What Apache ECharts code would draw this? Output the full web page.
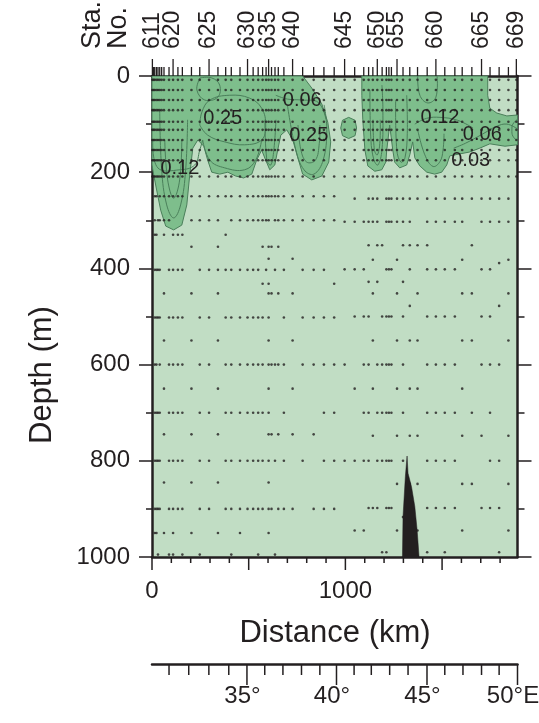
<!DOCTYPE html>
<html><head><meta charset="utf-8">
<script src="https://cdn.jsdelivr.net/npm/echarts@6/dist/echarts.min.js"></script>
<style>html,body{margin:0;padding:0;background:#fff;}#c{width:539px;height:723px;}</style>
</head><body><div id="c"></div>
<script>
// ---------- data ----------
const stationNo = [611,612,613,614,615,616,617,618,619,620,621,622,623,624,625,626,627,628,629,630,631,632,633,634,635,636,637,638,639,640,641,642,643,644,645,646,647,648,649,650,651,652,653,654,655,656,657,658,659,660,661,662,663,664,665,666,667,668,669];
const stationKm = [2,8,14,23,31,40,50,62,88,109,134,157,204,247,295,341,381,410,455,494,523,549,572,590,603,618,636,653,682,727,779,836,889,942,996,1048,1095,1120,1142,1165,1190,1212,1225,1238,1267,1298,1333,1373,1423,1468,1514,1566,1604,1654,1704,1748,1795,1843,1884];
const labeledStations = [611,620,625,630,635,640,645,650,655,660,665,669];

const distTicks = [0,100,200,300,400,500,600,700,800,900,1000,1100,1200,1300,1400,1500,1600,1700,1800];
const distLabels = [0,1000];

const lonDeg = [31,32,33,34,35,36,37,38,39,40,41,42,43,44,45,46,47,48,49,50];
const lonKm = [88,190,294,397,491,583,677,773,868,954,1045,1134,1229,1324,1422,1514,1608,1704,1795,1890];
const lonLabeled = [35,40,45,50];
const lonLabelText = ['35°','40°','45°','50°E'];

// sampling depths in the upper layer (all stations)
const upperDepths = [8,29,50,71,95,112,133,154,175,209];

// deeper samples: depth of each row and stations sampled at it
const sampleDepths = [250,300,330,355,380,403,432,452,502,550,600,650,700,745,800,845,900,950,995,
  255,303,352,382,389,402,428,452,478,500,550,600,650,700,748,800,848,898,917,945,990];
const sampleStations = [
  [613,614,616,618,619,620,621,622,623,624,625,626,627,628,629,630,631,632,633,634,635,636,637,638,639,640,641,642,643,644],
  [613,615,616,618,619,623,624,625,626,628,629,630,631,632,633,634,635,637,638,639,640,641,642,643,644],
  [613,614,618,620,621,622,627],
  [623,626,633,635,636,638],
  [635,640],
  [613,614,615,616,619,620,621,622,624,625,626,627,628,629,630,631,632,634,637,639,641,642,643],
  [633,635,644],
  [618,623,626,635,636,638,640],
  [613,614,615,616,619,620,621,622,624,625,627,628,629,630,631,632,633,635,639,641,642,643,644],
  [618,623,626,635,640],
  [613,614,616,619,620,621,622,624,625,627,628,629,630,631,632,633,635,636,637,638,639,641,642,643,644],
  [618,623,626,635,640],
  [613,614,615,616,619,620,621,622,624,625,627,628,629,630,631,632,633,635,639,643,644],
  [618,623,626,635,636,638,640,642],
  [613,614,615,616,619,620,621,622,624,625,627,628,629,630,631,632,633,635,637,639,641,643,644],
  [618,623,626,635],
  [613,614,615,616,619,620,621,622,624,625,627,628,629,630,631,632,633,635,636,638,639,640,642,643,644],
  [613,614,618,620,623,626,629,635],
  [615,619,620,622,624,628,632,637],
  [646,648,649,650,652,653,654,655,656,657,658,659,660,661,662,663,664,665,666,667,668],
  [645,646,647,648,649,650,652,653,654,655,656,657,659,660,661,662,663,665,666,667,668],
  [648,650,651,656,657,658,659,664],
  [649,655,663,668],
  [667],
  [645,646,647,652,653,654,657,659,660,661,662,665,666],
  [648,650,656],
  [649,655,658,663,664,668],
  [657,667],
  [646,647,648,651,652,653,654,656,659,660,661,662,665,666],
  [649,655,657,658,663,664,668],
  [645,647,648,650,651,652,653,654,656,659,660,661,662,665,666,667],
  [646,649,655,657,658,663],
  [647,648,650,651,652,653,654,656,659,660,661,662,664,666],
  [649,655,657,658,663,665,668],
  [645,646,647,648,650,651,652,653,654,656,659,660,661,662,666,667],
  [655,657,658,663,664,668],
  [648,649,650,652,653,654,659,660,661,662,665,666,667],
  [656],
  [646,647,655,658,663,668],
  [651,652,659,661,667]
];

// contoured area (> 0.03), [km, depth m]
const fillLeft = [[0,0],[779,0],[826,25],[878,58],[909,96],[924,137],[914,179],[878,208],[826,216],[779,204],[754,170],[728,133],[697,112],[666,123],[650,154],[635,185],[609,195],[588,175],[567,154],[541,175],[516,204],[474,212],[433,208],[392,200],[350,204],[309,200],[288,175],[268,146],[237,133],[211,150],[195,206],[180,268],[154,310],[112,320],[71,312],[45,279],[24,237],[9,206],[0,185]];
const fillRight = [[1085,0],[1736,0],[1736,40],[1747,67],[1783,77],[1835,83],[1890,81],[1890,143],[1825,146],[1747,141],[1695,150],[1643,158],[1591,162],[1540,166],[1524,185],[1498,200],[1462,204],[1421,200],[1385,187],[1359,170],[1348,137],[1333,164],[1317,185],[1281,191],[1255,179],[1245,154],[1229,102],[1214,154],[1209,179],[1188,195],[1152,198],[1116,187],[1101,154],[1090,91],[1085,40]];
const fillBlob = [[976,108],[985,92],[1017,86],[1050,92],[1058,108],[1050,124],[1017,130],[985,124]];

// inner contour lines
const contourLines = [
  [[40,71],[50,195],[76,268],[112,295],[148,268],[174,195],[184,91]],
  [[66,133],[81,216],[112,254],[143,216],[154,133]],
  [[4,133],[30,191],[144,195],[221,185],[247,154],[262,133]],
  [[248,4],[232,29],[273,50],[340,44],[350,19],[309,4],[248,4]],
  [[247,102],[258,75],[299,50],[402,40],[505,46],[567,67],[588,102],[567,133],[479,143],[376,137],[288,123],[247,102]],
  [[262,133],[299,175],[376,191],[479,195],[536,175],[567,133]],
  [[584,91],[594,175],[614,185],[630,154],[641,91]],
  [[700,60],[744,154],[786,195],[837,204],[885,175],[904,112],[890,60]],
  [[755,102],[770,154],[800,179],[845,175],[865,140],[868,102]],
  [[640,40],[700,48],[776,50],[860,55],[900,90]],
  [[1127,29],[1132,133],[1148,175],[1168,185],[1189,154],[1194,71],[1189,19]],
  [[1143,91],[1150,154],[1165,164],[1178,140],[1180,91]],
  [[1260,50],[1266,154],[1287,179],[1308,170],[1320,120],[1317,40]],
  [[1374,112],[1411,164],[1453,188],[1489,178],[1505,154],[1510,120]],
  [[1374,0],[1385,40],[1426,56],[1468,44],[1474,0]],
  [[1359,100],[1420,88],[1489,86],[1580,92],[1660,108]],
  [[1560,150],[1620,140],[1708,121],[1780,105],[1835,100],[1890,110]],
  [[1890,90],[1866,100],[1861,112],[1866,125],[1890,135]]
];
const contourLabelText = ['0.25','0.06','0.25','0.12','0.12','0.06','0.03'];
const contourLabelKm = [366,777,811,144,1489,1708,1648];
const contourLabelDepth = [88,50,123,192,86,121,176];

// bottom topography
const ridgeKm = [1295,1298,1310,1319,1324,1342,1359,1371,1381];
const ridgeDepth = [1000,916,833,790,826,854,895,944,1000];

// ---------- chart ----------
const FONT = '"Liberation Sans", Arial, Helvetica, sans-serif';
const INK = '#231f20';
const BG = '#c1ddc4';
const FILL = '#7ebe8c';
const CLINE = '#4a7f5a';

const kmOf = s => stationKm[stationNo.indexOf(s)];
const dots = [];
upperDepths.forEach(d => stationNo.forEach(s => dots.push([kmOf(s), d])));
sampleDepths.forEach((d, i) => sampleStations[i].forEach(s => dots.push([kmOf(s), d])));

const polys = [fillLeft, fillRight, fillBlob];
const ridge = ridgeKm.map((k, i) => [k, ridgeDepth[i]]);

const chart = echarts.init(document.getElementById('c'), null, {renderer: 'canvas'});
const axisLineStyle = {color: INK, width: 2.5};
chart.setOption({
  animation: false,
  grid: [
    {left: 152, top: 76, width: 365.5, height: 481, show: true, backgroundColor: BG, borderWidth: 0},
    {left: 152, top: 664, width: 365.5, height: 40, show: false}
  ],
  xAxis: [
    {gridIndex: 0, type: 'value', min: 0, max: 1890, interval: 500, position: 'bottom',
     axisLine: {show: true, onZero: false, lineStyle: axisLineStyle}, axisTick: {show: false}, splitLine: {show: false},
     axisLabel: {margin: 22, fontSize: 24, fontFamily: FONT, color: INK,
       formatter: v => distLabels.indexOf(v) >= 0 ? String(v) : ''}},
    {gridIndex: 0, type: 'value', min: 0, max: 1890, position: 'top',
     axisLine: {show: true, onZero: false, lineStyle: axisLineStyle}, axisTick: {show: false}, axisLabel: {show: false}, splitLine: {show: false}},
    {gridIndex: 1, type: 'value', min: 0, max: 1890, position: 'top',
     axisLine: {show: true, onZero: false, lineStyle: axisLineStyle}, axisTick: {show: false}, axisLabel: {show: false}, splitLine: {show: false}}
  ],
  yAxis: [
    {gridIndex: 0, type: 'value', inverse: true, min: 0, max: 1000, interval: 200, position: 'left',
     axisLine: {show: true, onZero: false, lineStyle: axisLineStyle},
     axisTick: {show: true, length: 13, lineStyle: {color: INK, width: 1.5}},
     minorTick: {show: true, splitNumber: 2, length: 6, lineStyle: {color: INK, width: 1.5}},
     splitLine: {show: false},
     axisLabel: {margin: 22, fontSize: 24, fontFamily: FONT, color: INK, formatter: v => String(v)}},
    {gridIndex: 0, type: 'value', inverse: true, min: 0, max: 1000, interval: 200, position: 'right',
     axisLine: {show: true, onZero: false, lineStyle: axisLineStyle},
     axisTick: {show: true, length: 14, lineStyle: {color: INK, width: 1.5}},
     minorTick: {show: true, splitNumber: 2, length: 7, lineStyle: {color: INK, width: 1.5}},
     splitLine: {show: false}, axisLabel: {show: false}},
    {gridIndex: 1, type: 'value', inverse: true, min: 0, max: 1, show: false}
  ],
  graphic: [
    {type: 'text', x: 335, y: 633, style: {text: 'Distance (km)', fontSize: 31, fontFamily: FONT, fill: INK, align: 'center', verticalAlign: 'middle', textAlign: 'center', textVerticalAlign: 'middle'}},
    {type: 'text', x: 42, y: 375, rotation: Math.PI / 2, style: {text: 'Depth (m)', fontSize: 31, fontFamily: FONT, fill: INK, align: 'center', verticalAlign: 'middle', textAlign: 'center', textVerticalAlign: 'middle'}},
    {type: 'text', x: 93, y: 49, rotation: Math.PI / 2, style: {text: 'Sta.', fontSize: 27, fontFamily: FONT, fill: INK, align: 'left', verticalAlign: 'middle', textAlign: 'left', textVerticalAlign: 'middle'}},
    {type: 'text', x: 119, y: 49, rotation: Math.PI / 2, style: {text: 'No.', fontSize: 27, fontFamily: FONT, fill: INK, align: 'left', verticalAlign: 'middle', textAlign: 'left', textVerticalAlign: 'middle'}}
  ],
  series: [
    {type: 'custom', xAxisIndex: 0, yAxisIndex: 0, silent: true, z: 1,
     data: polys.map((p, i) => [p[0][0], p[0][1], i]),
     renderItem: (params, api) => {
       const p = polys[api.value(2)];
       return {type: 'polygon', shape: {points: p.map(q => api.coord(q))},
         style: {fill: FILL, stroke: CLINE, lineWidth: 1}};
     }},
    {type: 'custom', xAxisIndex: 0, yAxisIndex: 0, silent: true, z: 2,
     data: contourLines.map((p, i) => [p[0][0], p[0][1], i]),
     renderItem: (params, api) => {
       const p = contourLines[api.value(2)];
       return {type: 'polyline', shape: {points: p.map(q => api.coord(q)), smooth: 0.4},
         style: {fill: 'none', stroke: CLINE, lineWidth: 1}};
     }},
    {type: 'scatter', xAxisIndex: 0, yAxisIndex: 0, silent: true, z: 3,
     symbol: 'circle', symbolSize: 2.6, itemStyle: {color: INK}, data: dots},
    {type: 'custom', xAxisIndex: 0, yAxisIndex: 0, silent: true, z: 4,
     data: [[ridge[0][0], ridge[0][1]]],
     renderItem: (params, api) => ({type: 'polygon', shape: {points: ridge.map(q => api.coord(q))},
       style: {fill: INK, stroke: INK, lineWidth: 0.5}})},
    {type: 'custom', xAxisIndex: 0, yAxisIndex: 0, silent: true, z: 5,
     data: contourLabelText.map((t, i) => [contourLabelKm[i], contourLabelDepth[i], i]),
     renderItem: (params, api) => {
       const pt = api.coord([api.value(0), api.value(1)]);
       return {type: 'text', x: pt[0], y: pt[1],
         style: {text: contourLabelText[api.value(2)], fontSize: 20, fontFamily: FONT, fill: INK,
           align: 'center', verticalAlign: 'middle'}};
     }},
    {type: 'custom', xAxisIndex: 0, yAxisIndex: 0, silent: true, z: 6,
     data: stationNo.map((s, i) => [stationKm[i], 0, s]),
     renderItem: (params, api) => {
       const pt = api.coord([api.value(0), 0]);
       const s = api.value(2);
       const lab = labeledStations.indexOf(s) >= 0;
       const children = [{type: 'line', shape: {x1: pt[0], y1: pt[1], x2: pt[0], y2: pt[1] - (lab ? 17 : 9)},
         style: {stroke: INK, lineWidth: 1.3}}];
       if (lab) children.push({type: 'text', x: pt[0], y: pt[1] - 27, rotation: Math.PI / 2,
         style: {text: String(s), fontSize: 23, fontFamily: FONT, fill: INK, align: 'left', verticalAlign: 'middle'}});
       return {type: 'group', children};
     }},
    {type: 'custom', xAxisIndex: 0, yAxisIndex: 0, silent: true, z: 6,
     data: distTicks.map(v => [v, 1000]),
     renderItem: (params, api) => {
       const v = api.value(0);
       const pt = api.coord([v, 1000]);
       return {type: 'line', shape: {x1: pt[0], y1: pt[1], x2: pt[0], y2: pt[1] + (v % 500 === 0 ? 13 : 6)},
         style: {stroke: INK, lineWidth: 1.5}};
     }},
    {type: 'custom', xAxisIndex: 2, yAxisIndex: 2, silent: true, z: 6,
     data: lonDeg.map((d, i) => [lonKm[i], 0, d]),
     renderItem: (params, api) => {
       const d = api.value(2);
       const pt = api.coord([api.value(0), 0]);
       const li = lonLabeled.indexOf(d);
       const children = [{type: 'line', shape: {x1: pt[0], y1: pt[1], x2: pt[0], y2: pt[1] + (li >= 0 ? 21 : 11)},
         style: {stroke: INK, lineWidth: 1.5}}];
       if (li >= 0) children.push({type: 'text', x: pt[0] - 4.5, y: pt[1] + 32,
         style: {text: lonLabelText[li], fontSize: 24, fontFamily: FONT, fill: INK, align: 'center', verticalAlign: 'middle'}});
       return {type: 'group', children};
     }}
  ]
});
</script>
</body></html>
